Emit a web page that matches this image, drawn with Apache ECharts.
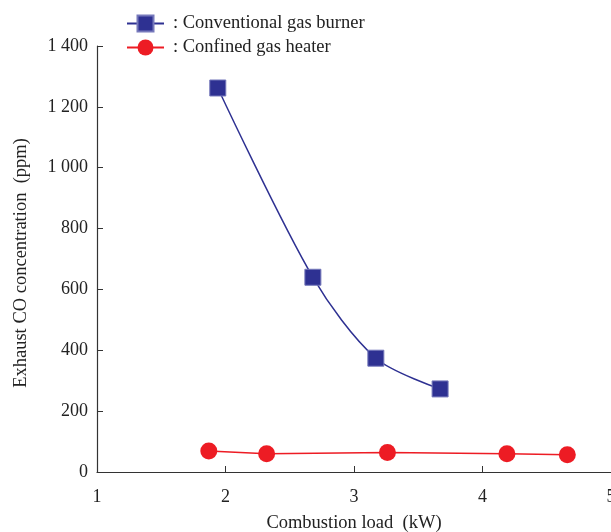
<!DOCTYPE html>
<html><head><meta charset="utf-8">
<script src="https://cdn.jsdelivr.net/npm/echarts@6/dist/echarts.min.js"></script>
<style>html,body{margin:0;padding:0;background:#fff}#c{width:611px;height:532px}</style>
</head><body><div id="c"></div>
<script>
const burnerX = [1.94, 2.68, 3.17, 3.67];
const burnerY = [1262, 640, 374, 273];
const heaterX = [1.87, 2.32, 3.26, 4.19, 4.66];
const heaterY = [69, 60, 64, 60, 57];
const seriesNames = ['Conventional gas burner', 'Confined gas heater'];
const xTicks = [1, 2, 3, 4, 5];
const yTicks = [0, 200, 400, 600, 800, 1000, 1200, 1400];

const font = '"Liberation Serif", "DejaVu Serif", serif';
const chart = echarts.init(document.getElementById('c'));
const fmtY = v => {
  const s = String(v);
  return s.length > 3 ? s.slice(0, s.length - 3) + ' ' + s.slice(-3) : s;
};
chart.setOption({
  animation: false,
  textStyle: {fontFamily: font},
  grid: {left: 97, right: 0, top: 46, bottom: 60, containLabel: false, outerBoundsMode: 'none'},
  legend: {
    left: 126, top: 14, padding: 0, orient: 'vertical', itemGap: 5,
    itemWidth: 37, itemHeight: 20,
    formatter: n => ': ' + n,
    textStyle: {fontFamily: font, fontSize: 18.5, color: '#222', padding: [0, 0, 0, 4]},
    data: seriesNames
  },
  xAxis: {
    type: 'value', min: xTicks[0], max: xTicks[xTicks.length - 1], interval: 1,
    name: 'Combustion load  (kW)', nameLocation: 'middle', nameGap: 42,
    nameTextStyle: {fontFamily: font, fontSize: 18.5, color: '#222'},
    axisLine: {show: true, lineStyle: {color: '#333', width: 1.2}},
    axisTick: {show: true, inside: true, length: 6, lineStyle: {color: '#333'}},
    axisLabel: {fontFamily: font, fontSize: 18, color: '#222', margin: 16},
    splitLine: {show: false}
  },
  yAxis: {
    type: 'value', min: yTicks[0], max: yTicks[yTicks.length - 1], interval: 200,
    name: 'Exhaust CO concentration  (ppm)', nameLocation: 'middle', nameGap: 66, nameRotate: 90,
    nameTextStyle: {fontFamily: font, fontSize: 18.5, color: '#222', padding: [0, 0, 0, -8]},
    axisLine: {show: true, lineStyle: {color: '#333', width: 1.2}},
    axisTick: {show: true, inside: true, length: 6, lineStyle: {color: '#333'}},
    axisLabel: {fontFamily: font, fontSize: 18, color: '#222', margin: 9, formatter: fmtY},
    splitLine: {show: false}
  },
  series: [
    {
      name: seriesNames[0], type: 'line', smooth: 0.3,
      data: burnerX.map((x, i) => [x, burnerY[i]]),
      symbol: 'rect', symbolSize: 16,
      itemStyle: {color: '#2e3192', borderColor: '#7679bb', borderWidth: 1},
      lineStyle: {color: '#2e3192', width: 1.5}
    },
    {
      name: seriesNames[1], type: 'line', smooth: false,
      data: heaterX.map((x, i) => [x, heaterY[i]]),
      symbol: 'circle', symbolSize: 17,
      itemStyle: {color: '#ed1c24'},
      lineStyle: {color: '#ed1c24', width: 1.5}
    }
  ]
});
</script></body></html>
